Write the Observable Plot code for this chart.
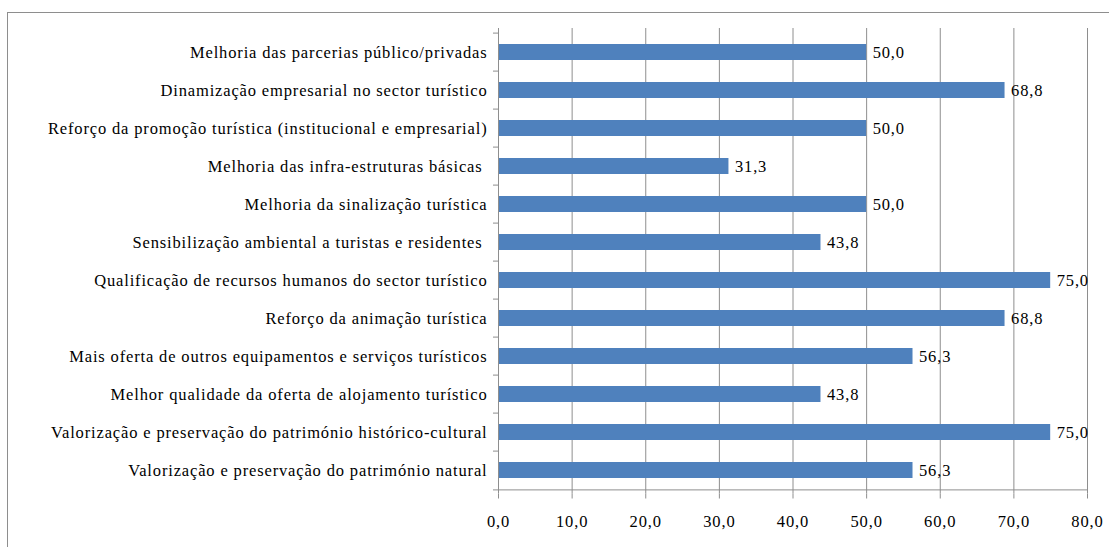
<!DOCTYPE html>
<html>
<head>
<meta charset="utf-8">
<script src="https://cdn.jsdelivr.net/npm/d3@7"></script>
<script src="https://cdn.jsdelivr.net/npm/@observablehq/plot@0.6"></script>
<style>
  html, body { margin: 0; padding: 0; background: #fff; overflow: hidden; font-family: "Liberation Serif", Tinos, serif; }
  #wrap { position: relative; width: 1109px; height: 547px; font-family: "Liberation Serif", Tinos, serif; }
  #frame { position: absolute; left: 7px; top: 12px; width: 1200px; height: 700px;
           border-left: 1.5px solid #8e8e8e; border-top: 1.5px solid #8e8e8e; }
  #chart { position: absolute; left: 0; top: 0; }
</style>
</head>
<body>
<div id="wrap"><div id="frame"></div><div id="chart"></div></div>
<script>
const categories = [
  "Melhoria das parcerias público/privadas",
  "Dinamização empresarial no sector turístico",
  "Reforço da promoção turística (institucional e empresarial)",
  "Melhoria das infra-estruturas básicas ",
  "Melhoria da sinalização turística",
  "Sensibilização ambiental a turistas e residentes ",
  "Qualificação de recursos humanos do sector turístico",
  "Reforço da animação turística",
  "Mais oferta de outros equipamentos e serviços turísticos",
  "Melhor qualidade da oferta de alojamento turístico",
  "Valorização e preservação do património histórico-cultural",
  "Valorização e preservação do património natural"
];
const values = [50.0, 68.8, 50.0, 31.3, 50.0, 43.8, 75.0, 68.8, 56.3, 43.8, 75.0, 56.3];
const xTicks = [0, 10, 20, 30, 40, 50, 60, 70, 80];

const data = categories.map((c, i) => ({category: c, value: values[i]}));
const fmt = v => v.toFixed(1).replace(".", ",");

const W = 1109, H = 547;
const plotTop = 28, plotBottom = 493.5;
const step = (plotBottom - plotTop) / categories.length;
const grey = "#8e8e8e";
const lastCat = categories[categories.length - 1];
const FONT = "Liberation Serif";
const FS = 16.5;

const chart = Plot.plot({
  width: W,
  height: H,
  marginLeft: 498,
  marginRight: 22,
  marginTop: plotTop,
  marginBottom: H - plotBottom,
  style: "font-family: 'Liberation Serif', Tinos, serif; font-size: 16.5px; color: #000; background: transparent;",
  x: {domain: [0, 80], ticks: xTicks, tickFormat: fmt, label: null},
  y: {domain: categories, paddingInner: 0.58, paddingOuter: 0.29, label: null},
  marks: [
    Plot.gridX(xTicks.filter(d => d > 0), {stroke: grey, strokeOpacity: 1, strokeWidth: 1}),
    Plot.barX(data, {x: "value", y: "category", fill: "#4F81BD"}),
    Plot.ruleX([0], {stroke: grey, strokeWidth: 1}),
    Plot.ruleY([lastCat], {y: d => d, x1: 0, x2: 80, dy: step / 2, stroke: grey}),
    Plot.ruleY(categories, {y: d => d, x1: -0.68, x2: 0, dy: -step / 2, stroke: grey}),
    Plot.ruleY([lastCat], {y: d => d, x1: -0.68, x2: 0, dy: step / 2, stroke: grey}),
    Plot.text(data, {x: "value", y: "category", text: d => fmt(d.value), textAnchor: "start", dx: 6, fill: "#000", fontFamily: FONT, fontSize: FS}),
    Plot.axisX({ticks: xTicks, tickFormat: fmt, tickSize: 5, tickPadding: 16, stroke: grey, fill: "#000", label: null, fontFamily: FONT, fontSize: FS}),
    Plot.axisY({tickSize: 0, tickPadding: 11, label: null, fill: "#000", fontFamily: FONT, fontSize: FS})
  ]
});
document.getElementById("chart").appendChild(chart);
d3.select(chart).selectAll("text")
  .style("font-family", "'Liberation Serif', Tinos, serif")
  .style("font-size", FS + "px")
  .style("letter-spacing", "0.85px");
</script>
</body>
</html>
